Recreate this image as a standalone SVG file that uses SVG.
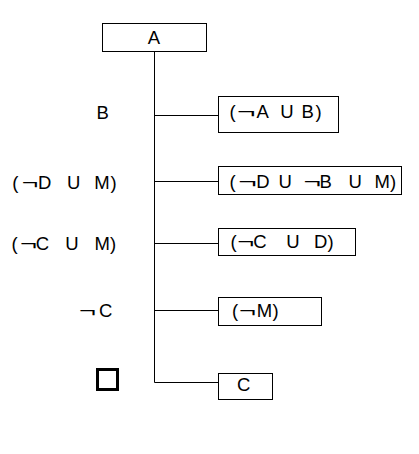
<svg xmlns="http://www.w3.org/2000/svg" width="419" height="454" viewBox="0 0 419 454">
<style>
.box{fill:#fff;stroke:#000;stroke-width:1}
.ln{fill:none;stroke:#000;stroke-width:1}
text{font-family:"Liberation Sans",Arial,sans-serif;font-size:18.5px;fill:#000}
</style>
<rect width="419" height="454" fill="#fff"/>
<g id="connectors">
<path class="ln" d="M154.5 51V382.5H218"/>
<path class="ln" d="M154.5 115.5H218"/>
<path class="ln" d="M154.5 181.5H218"/>
<path class="ln" d="M154.5 243.5H218"/>
<path class="ln" d="M154.5 310.5H218"/>
</g>
<g id="nodeA"><rect class="box" x="102.5" y="23.5" width="104" height="28"/><text x="154" y="44" text-anchor="middle">A</text></g>
<g id="node1"><rect class="box" x="218.5" y="96.5" width="120" height="36"/>
<text x="229.5" y="118">(</text><text x="237" y="118" textLength="18.5" lengthAdjust="spacingAndGlyphs">¬</text><text x="256.5" y="118">A</text><text x="280.3" y="118">U</text><text x="301.6" y="118">B</text><text x="315.5" y="118">)</text></g>
<g id="node2"><rect class="box" x="218.5" y="166.5" width="183" height="28"/>
<text x="229.5" y="188">(</text><text x="238.3" y="188" textLength="18.5" lengthAdjust="spacingAndGlyphs">¬</text><text x="256.3" y="188">D</text><text x="278.6" y="188">U</text><text x="303.5" y="188" textLength="17.5" lengthAdjust="spacingAndGlyphs">¬</text><text x="319.6" y="188">B</text><text x="348.6" y="188">U</text><text x="374.5" y="188">M</text><text x="390" y="188">)</text></g>
<g id="node3"><rect class="box" x="218.5" y="228.5" width="137" height="27"/>
<text x="230.5" y="248">(</text><text x="237.3" y="248" textLength="17" lengthAdjust="spacingAndGlyphs">¬</text><text x="253.3" y="248">C</text><text x="286.3" y="248">U</text><text x="314" y="248">D</text><text x="327.5" y="248">)</text></g>
<g id="node4"><rect class="box" x="218.5" y="297.5" width="103" height="28"/>
<text x="232" y="317">(</text><text x="239" y="317" textLength="17" lengthAdjust="spacingAndGlyphs">¬</text><text x="256.7" y="317">M</text><text x="272.5" y="317">)</text></g>
<g id="node5"><rect class="box" x="218.5" y="373.5" width="54" height="26"/>
<text x="237" y="391">C</text></g>
<g id="labels">
<text x="96.6" y="119">B</text>
<text x="12.2" y="189">(</text><text x="21.7" y="189" textLength="16.5" lengthAdjust="spacingAndGlyphs">¬</text><text x="38" y="189">D</text><text x="67" y="189">U</text><text x="94.2" y="189">M</text><text x="110.5" y="189">)</text>
<text x="11.6" y="250">(</text><text x="20" y="250" textLength="17" lengthAdjust="spacingAndGlyphs">¬</text><text x="35.7" y="250">C</text><text x="65.3" y="250">U</text><text x="94.5" y="250">M</text><text x="110" y="250">)</text>
<text x="79" y="317" textLength="17" lengthAdjust="spacingAndGlyphs">¬</text><text x="99" y="317">C</text>
<rect x="97.5" y="369.5" width="20" height="20" fill="none" stroke="#000" stroke-width="3"/>
</g>
</svg>
